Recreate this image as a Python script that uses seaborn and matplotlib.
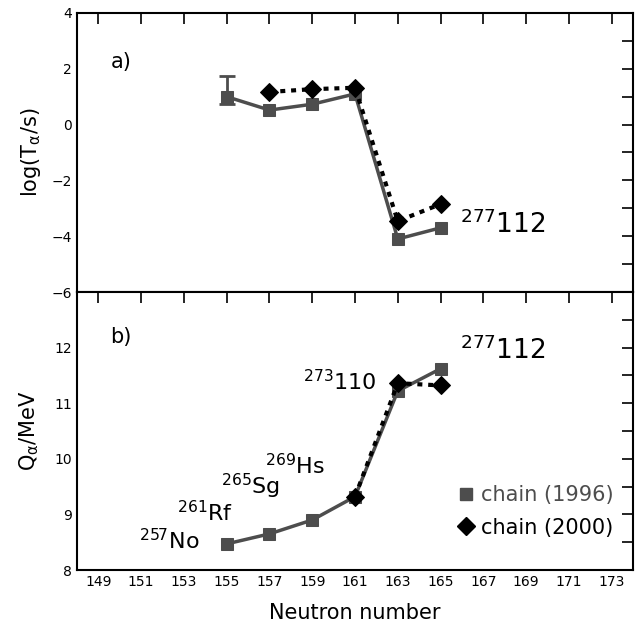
import matplotlib
matplotlib.use("Agg")
import matplotlib.pyplot as plt
from matplotlib.lines import Line2D
from matplotlib.ticker import MultipleLocator, FixedLocator
import seaborn as sns

# Data
n_1996 = [155, 157, 159, 161, 163, 165]
logt_1996 = [1.0, 0.52, 0.73, 1.1, -4.1, -3.7]
q_1996 = [8.47, 8.65, 8.9, 9.32, 11.22, 11.62]

n_2000 = [157, 159, 161, 163, 165]
logt_2000 = [1.17, 1.27, 1.32, -3.46, -2.85]
n_2000_q = [161, 163, 165]
q_2000 = [9.32, 11.36, 11.32]

# asymmetric error bar on the first 1996 point (lower, upper)
err_low = [0.25]
err_high = [0.75]

x_ticks = list(range(149, 175, 2))

sns.set_style("white")
plt.rcParams["font.family"] = ["DejaVu Sans"]
plt.rcParams["mathtext.default"] = "regular"
plt.rcParams["text.color"] = "black"
plt.rcParams["axes.labelcolor"] = "black"
plt.rcParams["xtick.color"] = "black"
plt.rcParams["ytick.color"] = "black"

gray = "#4d4d4d"
fig = plt.figure(figsize=(6.38, 6.30), dpi=100)
ax1 = fig.add_axes([0.1207, 0.5365, 0.8715, 0.4429])
ax2 = fig.add_axes([0.1207, 0.0952, 0.8715, 0.4413])

# top panel: half-lives
sns.lineplot(x=n_1996, y=logt_1996, ax=ax1, color=gray, lw=2.5,
             marker="s", markersize=9, markeredgecolor=gray)
sns.lineplot(x=n_2000, y=logt_2000, ax=ax1, color="black", lw=3,
             linestyle=(0, (1.2, 1.4)), marker="D", markersize=9,
             markeredgecolor="black")
ax1.errorbar(n_1996[:1], logt_1996[:1], yerr=[err_low, err_high],
             fmt="none", ecolor=gray, elinewidth=2, capsize=6, capthick=2)

# bottom panel: Q values
sns.lineplot(x=n_1996, y=q_1996, ax=ax2, color=gray, lw=2.5,
             marker="s", markersize=9, markeredgecolor=gray)
sns.lineplot(x=n_2000_q, y=q_2000, ax=ax2, color="black", lw=3,
             linestyle=(0, (1.2, 1.4)), marker="D", markersize=9,
             markeredgecolor="black")

ax1.set_ylim(-6, 4)
ax1.yaxis.set_major_locator(MultipleLocator(2))
ax1.yaxis.set_minor_locator(MultipleLocator(1))
ax2.set_ylim(8, 13)
ax2.yaxis.set_major_locator(FixedLocator([8, 9, 10, 11, 12]))
ax2.yaxis.set_minor_locator(MultipleLocator(0.5))

for ax in (ax1, ax2):
    ax.set_xlim(148, 174)
    ax.xaxis.set_major_locator(FixedLocator(x_ticks))
    ax.tick_params(which="both", direction="in", length=8, width=1.2,
                   top=True, right=True, labelsize=10)
    for s in ax.spines.values():
        s.set_linewidth(1.5)
        s.set_color("black")

ax1.tick_params(labelbottom=False)
ax1.set_ylabel(r"log(T$_\alpha$/s)", fontsize=15, labelpad=6)
ax2.set_ylabel(r"Q$_\alpha$/MeV", fontsize=15, labelpad=10)
ax2.set_xlabel("Neutron number", fontsize=15, labelpad=10)

ax1.text(0.06, 0.825, "a)", transform=ax1.transAxes, fontsize=15, va="center")
ax2.text(0.06, 0.838, "b)", transform=ax2.transAxes, fontsize=15, va="center")
ax1.text(167.9, -3.6, r"$^{277}$112", fontsize=19, ha="center", va="center")
ax2.text(167.9, 11.94, r"$^{277}$112", fontsize=19, ha="center", va="center")

labels = [(r"$^{257}$No", 152.3, 8.53),
          (r"$^{261}$Rf", 154.0, 9.03),
          (r"$^{265}$Sg", 156.1, 9.5),
          (r"$^{269}$Hs", 158.2, 9.87),
          (r"$^{273}$110", 160.3, 11.38)]
for txt, xx, yy in labels:
    ax2.text(xx, yy, txt, fontsize=16, ha="center", va="center")

handles = [Line2D([], [], ls="none", marker="s", color=gray, markersize=8),
           Line2D([], [], ls="none", marker="D", color="black", markersize=9)]
leg = ax2.legend(handles, ["chain (1996)", "chain (2000)"], loc="upper left",
                 bbox_to_anchor=(0.665, 0.335), frameon=False, fontsize=15,
                 handletextpad=0.25, handlelength=1.0, labelspacing=0.6,
                 borderaxespad=0)
leg.get_texts()[0].set_color(gray)

fig.savefig("out.png", dpi=100)
